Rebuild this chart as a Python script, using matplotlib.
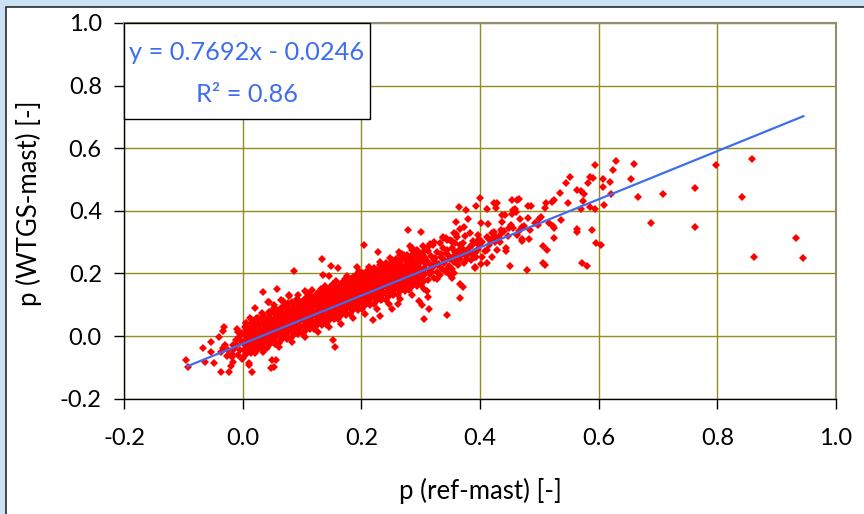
import matplotlib
matplotlib.use('Agg')
import matplotlib.pyplot as plt
from matplotlib.patches import Rectangle

plt.rcParams['font.family'] = ['Lato', 'DejaVu Sans']

# dense core of the cloud, read column by column along the band
core_pts = [
    (0.001, -0.069), (0.006, -0.056), (0.003, -0.044), (0.008, -0.033), (0.000, -0.022), (0.005, -0.012), (0.009, -0.002), (0.002, 0.008), (0.007, 0.018), (0.004, 0.029), (0.006, 0.041),
    (0.014, -0.055), (0.010, -0.042), (0.017, -0.030), (0.012, -0.019), (0.019, -0.009), (0.011, 0.001), (0.016, 0.011), (0.013, 0.021), (0.018, 0.032), (0.015, 0.043), (0.012, 0.058),
    (0.021, -0.053), (0.026, -0.040), (0.023, -0.028), (0.028, -0.017), (0.020, -0.006), (0.025, 0.004), (0.029, 0.014), (0.022, 0.024), (0.027, 0.034), (0.024, 0.045), (0.026, 0.057),
    (0.034, -0.040), (0.030, -0.027), (0.037, -0.015), (0.032, -0.004), (0.039, 0.006), (0.031, 0.016), (0.036, 0.026), (0.033, 0.036), (0.038, 0.047), (0.035, 0.058), (0.032, 0.073),
    (0.041, -0.038), (0.046, -0.025), (0.043, -0.013), (0.048, -0.002), (0.040, 0.009), (0.045, 0.019), (0.049, 0.029), (0.042, 0.039), (0.047, 0.049), (0.044, 0.060), (0.046, 0.072),
    (0.054, -0.024), (0.050, -0.011), (0.057, 0.001), (0.052, 0.012), (0.059, 0.022), (0.051, 0.032), (0.056, 0.042), (0.053, 0.052), (0.058, 0.063), (0.055, 0.074), (0.052, 0.089),
    (0.061, -0.022), (0.066, -0.009), (0.063, 0.003), (0.068, 0.014), (0.060, 0.025), (0.065, 0.035), (0.069, 0.045), (0.062, 0.055), (0.067, 0.065), (0.064, 0.076), (0.066, 0.088),
    (0.074, -0.009), (0.070, 0.004), (0.077, 0.016), (0.072, 0.027), (0.079, 0.037), (0.071, 0.047), (0.076, 0.057), (0.073, 0.067), (0.078, 0.078), (0.075, 0.089), (0.072, 0.104),
    (0.081, -0.007), (0.086, 0.006), (0.083, 0.018), (0.088, 0.029), (0.080, 0.040), (0.085, 0.050), (0.089, 0.060), (0.082, 0.070), (0.087, 0.080), (0.084, 0.091), (0.086, 0.103),
    (0.094, 0.007), (0.090, 0.020), (0.097, 0.032), (0.092, 0.043), (0.099, 0.053), (0.091, 0.063), (0.096, 0.073), (0.093, 0.083), (0.098, 0.094), (0.095, 0.105), (0.092, 0.120),
    (0.101, 0.008), (0.106, 0.021), (0.103, 0.033), (0.108, 0.044), (0.100, 0.055), (0.105, 0.065), (0.109, 0.075), (0.102, 0.085), (0.107, 0.095), (0.104, 0.106), (0.106, 0.118),
    (0.114, 0.022), (0.110, 0.035), (0.117, 0.047), (0.112, 0.058), (0.119, 0.068), (0.111, 0.078), (0.116, 0.088), (0.113, 0.098), (0.118, 0.109), (0.115, 0.120), (0.112, 0.135),
    (0.121, 0.024), (0.126, 0.037), (0.123, 0.049), (0.128, 0.060), (0.120, 0.071), (0.125, 0.081), (0.129, 0.091), (0.122, 0.101), (0.127, 0.111), (0.124, 0.122), (0.126, 0.134),
    (0.134, 0.037), (0.130, 0.050), (0.137, 0.062), (0.132, 0.073), (0.139, 0.083), (0.131, 0.093), (0.136, 0.103), (0.133, 0.113), (0.138, 0.124), (0.135, 0.135), (0.132, 0.150),
    (0.141, 0.039), (0.146, 0.052), (0.143, 0.064), (0.148, 0.075), (0.140, 0.086), (0.145, 0.096), (0.149, 0.106), (0.142, 0.116), (0.147, 0.126), (0.144, 0.137), (0.146, 0.149),
    (0.154, 0.053), (0.150, 0.066), (0.157, 0.078), (0.152, 0.089), (0.159, 0.099), (0.151, 0.109), (0.156, 0.119), (0.153, 0.129), (0.158, 0.140), (0.155, 0.151), (0.152, 0.166),
    (0.161, 0.054), (0.166, 0.067), (0.163, 0.079), (0.168, 0.090), (0.160, 0.101), (0.165, 0.111), (0.169, 0.121), (0.162, 0.131), (0.167, 0.141), (0.164, 0.152), (0.166, 0.164),
    (0.174, 0.068), (0.170, 0.081), (0.177, 0.093), (0.172, 0.104), (0.179, 0.114), (0.171, 0.124), (0.176, 0.134), (0.173, 0.144), (0.178, 0.155), (0.175, 0.166), (0.172, 0.181),
    (0.181, 0.070), (0.186, 0.083), (0.183, 0.095), (0.188, 0.106), (0.180, 0.117), (0.185, 0.127), (0.189, 0.137), (0.182, 0.147), (0.187, 0.157), (0.184, 0.168), (0.186, 0.180),
    (0.194, 0.084), (0.190, 0.097), (0.197, 0.109), (0.192, 0.120), (0.199, 0.130), (0.191, 0.140), (0.196, 0.150), (0.193, 0.160), (0.198, 0.171), (0.195, 0.182), (0.192, 0.197),
    (0.201, 0.085), (0.206, 0.098), (0.203, 0.110), (0.208, 0.121), (0.200, 0.132), (0.205, 0.142), (0.209, 0.152), (0.202, 0.162), (0.207, 0.172), (0.204, 0.183), (0.206, 0.195),
    (0.214, 0.099), (0.210, 0.112), (0.217, 0.124), (0.212, 0.135), (0.219, 0.145), (0.211, 0.155), (0.216, 0.165), (0.213, 0.175), (0.218, 0.186), (0.215, 0.197), (0.212, 0.212),
    (0.221, 0.101), (0.226, 0.114), (0.223, 0.126), (0.228, 0.137), (0.220, 0.148), (0.225, 0.158), (0.229, 0.168), (0.222, 0.178), (0.227, 0.188), (0.224, 0.199), (0.226, 0.211),
    (0.234, 0.114), (0.230, 0.127), (0.237, 0.139), (0.232, 0.150), (0.239, 0.160), (0.231, 0.170), (0.236, 0.180), (0.233, 0.190), (0.238, 0.201), (0.235, 0.212), (0.232, 0.227),
    (0.241, 0.116), (0.246, 0.129), (0.243, 0.141), (0.248, 0.152), (0.240, 0.163), (0.245, 0.173), (0.249, 0.183), (0.242, 0.193), (0.247, 0.203), (0.244, 0.214), (0.246, 0.226),
    (0.254, 0.130), (0.250, 0.143), (0.257, 0.155), (0.252, 0.166), (0.259, 0.176), (0.251, 0.186), (0.256, 0.196), (0.253, 0.206), (0.258, 0.217), (0.255, 0.228), (0.252, 0.243),
    (0.261, 0.131), (0.266, 0.144), (0.263, 0.156), (0.268, 0.167), (0.260, 0.178), (0.265, 0.188), (0.269, 0.198), (0.262, 0.208), (0.267, 0.218), (0.264, 0.229), (0.266, 0.241),
    (0.274, 0.145), (0.270, 0.158), (0.277, 0.170), (0.272, 0.181), (0.279, 0.191), (0.271, 0.201), (0.276, 0.211), (0.273, 0.221), (0.278, 0.232), (0.275, 0.243), (0.272, 0.258),
    (0.281, 0.147), (0.286, 0.160), (0.283, 0.172), (0.288, 0.183), (0.280, 0.194), (0.285, 0.204), (0.289, 0.214), (0.282, 0.224), (0.287, 0.234), (0.284, 0.245), (0.286, 0.257),
    (0.294, 0.160), (0.290, 0.173), (0.297, 0.185), (0.292, 0.196), (0.299, 0.206), (0.291, 0.216), (0.296, 0.226), (0.293, 0.236), (0.298, 0.247), (0.295, 0.258), (0.292, 0.273),
    (0.301, 0.162), (0.306, 0.175), (0.303, 0.187), (0.308, 0.198), (0.300, 0.209), (0.305, 0.219), (0.309, 0.229), (0.302, 0.239), (0.307, 0.249), (0.304, 0.260), (0.306, 0.272),
    (0.312, 0.180), (0.316, 0.198), (0.314, 0.212), (0.318, 0.226), (0.311, 0.240), (0.317, 0.256), (0.313, 0.272),
    (0.323, 0.185), (0.327, 0.206), (0.321, 0.220), (0.326, 0.235), (0.324, 0.250), (0.328, 0.268),
    (0.332, 0.196), (0.336, 0.214), (0.331, 0.230), (0.338, 0.246), (0.334, 0.263), (0.337, 0.280),
    (0.343, 0.205), (0.347, 0.224), (0.341, 0.240), (0.346, 0.258), (0.344, 0.276),
    (0.352, 0.215), (0.356, 0.236), (0.354, 0.252), (0.358, 0.270),
    (0.363, 0.226), (0.367, 0.246), (0.361, 0.265), (0.366, 0.290),
    (0.373, 0.232), (0.376, 0.255), (0.372, 0.278),
    (0.384, 0.244), (0.381, 0.266), (0.387, 0.292),
    (0.393, 0.252), (0.397, 0.279), (0.395, 0.300),
    (-0.008, -0.060), (-0.004, -0.044), (-0.009, -0.030), (-0.003, -0.017), (-0.006, -0.004), (-0.002, 0.010),
    (-0.018, -0.058), (-0.014, -0.042), (-0.017, -0.027), (-0.012, -0.012),
    (-0.027, -0.062), (-0.024, -0.045), (-0.029, -0.030), (-0.036, -0.052), (-0.033, -0.038),
]

# more readings between the core columns (x of column, y values in it)
fill_cols = [0.005, 0.015, 0.025, 0.035, 0.045, 0.055, 0.065, 0.075, 0.085, 0.095,
             0.105, 0.115, 0.125, 0.135, 0.145, 0.155, 0.165, 0.175, 0.185, 0.195,
             0.205, 0.215, 0.225, 0.235, 0.245, 0.255, 0.265, 0.275, 0.285, 0.295]
fill_vals = [
    [-0.057, -0.045, -0.033, -0.021, -0.011, -0.001, 0.009, 0.020, 0.031, 0.043],
    [-0.049, -0.037, -0.025, -0.013, -0.003, 0.007, 0.017, 0.028, 0.039, 0.051],
    [-0.041, -0.029, -0.017, -0.005, 0.005, 0.015, 0.025, 0.036, 0.047, 0.059],
    [-0.034, -0.022, -0.010, 0.002, 0.012, 0.022, 0.032, 0.043, 0.054, 0.066],
    [-0.026, -0.014, -0.002, 0.010, 0.020, 0.030, 0.040, 0.051, 0.062, 0.074],
    [-0.018, -0.006, 0.006, 0.018, 0.028, 0.038, 0.048, 0.059, 0.070, 0.082],
    [-0.011, 0.001, 0.013, 0.025, 0.035, 0.045, 0.055, 0.066, 0.077, 0.089],
    [-0.003, 0.009, 0.021, 0.033, 0.043, 0.053, 0.063, 0.074, 0.085, 0.097],
    [0.005, 0.017, 0.029, 0.041, 0.051, 0.061, 0.071, 0.082, 0.093, 0.105],
    [0.012, 0.024, 0.036, 0.048, 0.058, 0.068, 0.078, 0.089, 0.100, 0.112],
    [0.020, 0.032, 0.044, 0.056, 0.066, 0.076, 0.086, 0.097, 0.108, 0.120],
    [0.028, 0.040, 0.052, 0.064, 0.074, 0.084, 0.094, 0.105, 0.116, 0.128],
    [0.036, 0.048, 0.060, 0.072, 0.082, 0.092, 0.102, 0.113, 0.124, 0.136],
    [0.043, 0.055, 0.067, 0.079, 0.089, 0.099, 0.109, 0.120, 0.131, 0.143],
    [0.051, 0.063, 0.075, 0.087, 0.097, 0.107, 0.117, 0.128, 0.139, 0.151],
    [0.059, 0.071, 0.083, 0.095, 0.105, 0.115, 0.125, 0.136, 0.147, 0.159],
    [0.066, 0.078, 0.090, 0.102, 0.112, 0.122, 0.132, 0.143, 0.154, 0.166],
    [0.074, 0.086, 0.098, 0.110, 0.120, 0.130, 0.140, 0.151, 0.162, 0.174],
    [0.082, 0.094, 0.106, 0.118, 0.128, 0.138, 0.148, 0.159, 0.170, 0.182],
    [0.089, 0.101, 0.113, 0.125, 0.135, 0.145, 0.155, 0.166, 0.177, 0.189],
    [0.097, 0.109, 0.121, 0.133, 0.143, 0.153, 0.163, 0.174, 0.185, 0.197],
    [0.105, 0.117, 0.129, 0.141, 0.151, 0.161, 0.171, 0.182, 0.193, 0.205],
    [0.112, 0.124, 0.136, 0.148, 0.158, 0.168, 0.178, 0.189, 0.200, 0.212],
    [0.120, 0.132, 0.144, 0.156, 0.166, 0.176, 0.186, 0.197, 0.208, 0.220],
    [0.128, 0.140, 0.152, 0.164, 0.174, 0.184, 0.194, 0.205, 0.216, 0.228],
    [0.136, 0.148, 0.160, 0.172, 0.182, 0.192, 0.202, 0.213, 0.224, 0.236],
    [0.143, 0.155, 0.167, 0.179, 0.189, 0.199, 0.209, 0.220, 0.231, 0.243],
    [0.151, 0.163, 0.175, 0.187, 0.197, 0.207, 0.217, 0.228, 0.239, 0.251],
    [0.159, 0.171, 0.183, 0.195, 0.205, 0.215, 0.225, 0.236, 0.247, 0.259],
    [0.166, 0.178, 0.190, 0.202, 0.212, 0.222, 0.232, 0.243, 0.254, 0.266],
]

# ragged edges of the band and the thinner part between 0.3 and 0.5
edge_pts = [
    (0.052, 0.098), (0.068, 0.112), (0.083, 0.110), (0.094, 0.131), (0.108, 0.124), (0.117, 0.148),
    (0.128, 0.141), (0.139, 0.160), (0.148, 0.158), (0.158, 0.175), (0.167, 0.170), (0.176, 0.192),
    (0.186, 0.188), (0.196, 0.207), (0.203, 0.201), (0.213, 0.222), (0.222, 0.216), (0.231, 0.238),
    (0.241, 0.232), (0.249, 0.250), (0.258, 0.246), (0.268, 0.262), (0.277, 0.258), (0.286, 0.276),
    (0.296, 0.270), (0.304, 0.288), (0.313, 0.285), (0.322, 0.300), (0.333, 0.296), (0.342, 0.312),
    (0.352, 0.305), (0.362, 0.318),
    (0.058, 0.084), (0.073, 0.096), (0.088, 0.098), (0.101, 0.112), (0.112, 0.110), (0.123, 0.126),
    (0.133, 0.128), (0.143, 0.142), (0.153, 0.146), (0.163, 0.158), (0.171, 0.158), (0.182, 0.176),
    (0.191, 0.175), (0.201, 0.190), (0.209, 0.188), (0.218, 0.204), (0.227, 0.203), (0.237, 0.220),
    (0.246, 0.218), (0.254, 0.236), (0.263, 0.232), (0.273, 0.248), (0.282, 0.246), (0.291, 0.262),
    (0.300, 0.258),
    (0.034, -0.050), (0.062, -0.034), (0.084, -0.020), (0.105, -0.002), (0.127, 0.014), (0.146, 0.030),
    (0.165, 0.040), (0.186, 0.058), (0.207, 0.072), (0.226, 0.088), (0.246, 0.102), (0.266, 0.118),
    (0.285, 0.132), (0.305, 0.150),
    (0.318, 0.205), (0.322, 0.244), (0.329, 0.226), (0.335, 0.252), (0.339, 0.232), (0.343, 0.266),
    (0.349, 0.245), (0.353, 0.282), (0.357, 0.256), (0.362, 0.240), (0.364, 0.276), (0.368, 0.260),
    (0.371, 0.296), (0.375, 0.268), (0.378, 0.246), (0.382, 0.280), (0.386, 0.262), (0.389, 0.305),
    (0.394, 0.268), (0.399, 0.290), (0.403, 0.300), (0.408, 0.272), (0.411, 0.318), (0.415, 0.290),
    (0.420, 0.330), (0.425, 0.300), (0.428, 0.275), (0.432, 0.312), (0.440, 0.335), (0.447, 0.320),
    (0.456, 0.345), (0.463, 0.322), (0.474, 0.350), (0.485, 0.340), (0.492, 0.362),
]

# scattered points outside the dense band
sparse_pts = [
    (0.594, 0.546), (0.629, 0.560), (0.660, 0.549), (0.625, 0.530), (0.586, 0.508), (0.591, 0.505),
    (0.582, 0.488), (0.607, 0.502), (0.619, 0.491), (0.655, 0.503), (0.608, 0.475), (0.571, 0.462),
    (0.576, 0.455), (0.620, 0.453), (0.574, 0.431), (0.667, 0.443), (0.708, 0.454), (0.762, 0.473),
    (0.797, 0.545), (0.859, 0.564), (0.842, 0.444), (0.609, 0.418), (0.585, 0.411), (0.594, 0.406),
    (0.570, 0.407), (0.688, 0.362), (0.763, 0.347), (0.588, 0.340), (0.595, 0.296), (0.604, 0.290),
    (0.572, 0.235), (0.581, 0.223), (0.932, 0.314), (0.861, 0.251), (0.944, 0.249),
    (0.552, 0.507), (0.545, 0.490), (0.534, 0.458), (0.563, 0.467), (0.549, 0.426), (0.512, 0.424),
    (0.522, 0.429), (0.525, 0.434), (0.510, 0.410), (0.481, 0.416), (0.486, 0.416), (0.454, 0.434),
    (0.462, 0.435), (0.466, 0.437), (0.455, 0.402), (0.459, 0.406), (0.428, 0.426), (0.424, 0.424),
    (0.400, 0.441), (0.393, 0.416), (0.365, 0.412), (0.376, 0.402), (0.412, 0.405), (0.427, 0.408),
    (0.437, 0.386), (0.442, 0.386), (0.454, 0.390), (0.461, 0.395), (0.468, 0.375), (0.481, 0.377),
    (0.502, 0.379), (0.500, 0.373), (0.516, 0.361), (0.523, 0.352), (0.525, 0.346), (0.537, 0.371),
    (0.497, 0.355), (0.563, 0.343), (0.564, 0.333), (0.525, 0.314), (0.482, 0.309), (0.470, 0.311),
    (0.471, 0.304), (0.506, 0.288), (0.513, 0.276), (0.507, 0.234), (0.509, 0.228), (0.480, 0.212),
    (0.451, 0.223), (0.434, 0.299), (0.444, 0.281), (0.444, 0.272), (0.435, 0.339), (0.435, 0.326),
    (0.452, 0.354), (0.449, 0.345), (0.466, 0.336), (0.471, 0.348), (0.437, 0.363), (0.423, 0.332),
    (0.425, 0.319), (0.421, 0.309), (0.401, 0.360), (0.413, 0.358), (0.396, 0.322), (0.398, 0.310),
    (0.360, 0.363), (0.379, 0.375), (0.366, 0.343), (0.373, 0.347), (0.375, 0.319), (0.383, 0.329),
    (0.412, 0.274), (0.404, 0.253), (0.401, 0.229), (0.391, 0.220), (0.421, 0.251), (0.412, 0.234),
    (0.413, 0.314), (0.418, 0.303), (0.337, 0.312), (0.350, 0.307), (0.358, 0.296), (0.279, 0.339),
    (0.300, 0.331), (0.282, 0.288), (0.286, 0.282),
    (0.205, 0.291), (0.134, 0.245), (0.149, 0.224), (0.160, 0.218), (0.228, 0.267), (0.192, 0.221),
    (0.136, 0.194), (0.105, 0.145), (0.367, 0.122), (0.298, 0.113), (0.303, 0.098), (0.314, 0.085),
    (0.306, 0.054), (0.344, 0.067), (0.327, 0.182), (0.262, 0.104), (0.252, 0.086), (0.231, 0.063),
    (0.219, 0.051), (0.392, 0.216), (0.391, 0.253), (0.263, 0.267), (0.265, 0.259), (0.294, 0.275),
    (0.299, 0.261), (0.316, 0.293), (0.320, 0.291), (0.337, 0.315), (0.345, 0.308), (0.353, 0.301),
    (0.356, 0.330), (0.360, 0.326), (0.386, 0.290), (0.390, 0.268), (0.390, 0.253), (0.353, 0.184),
    (0.357, 0.202), (0.367, 0.166), (0.372, 0.158), (0.310, 0.145), (0.313, 0.126), (0.343, 0.211),
    (0.348, 0.198),
    (-0.096, -0.077), (-0.092, -0.098), (-0.067, -0.039), (-0.054, -0.018), (-0.064, -0.082),
    (-0.049, -0.085), (-0.040, -0.002), (-0.053, -0.050), (-0.036, -0.115), (-0.023, -0.114),
    (-0.016, -0.082), (-0.020, -0.096), (-0.018, -0.066), (-0.033, 0.016), (-0.031, 0.029),
    (-0.010, 0.023), (-0.008, 0.012), (-0.001, -0.073), (0.010, -0.087), (0.010, -0.093),
    (0.015, -0.116), (0.023, 0.054), (0.023, 0.039), (0.034, 0.141), (0.058, 0.149), (0.043, 0.108),
    (0.045, 0.077), (0.052, -0.098), (0.048, -0.103), (0.050, -0.077), (0.056, -0.077),
    (0.073, 0.096), (0.076, 0.106), (0.078, 0.131), (0.087, 0.101), (0.086, 0.208), (0.064, 0.018),
    (0.078, 0.129), (0.044, 0.109), (0.064, 0.115), (0.070, 0.094), (0.020, 0.090), (0.046, 0.078),
    (0.023, 0.055), (0.035, 0.053), (0.108, 0.138), (0.112, 0.126), (0.145, 0.192),
    (0.152, -0.014), (0.156, -0.036),
]

# trend line from the chart annotation
slope = 0.7692
intercept = -0.0246
r2 = 0.86
line_x = [-0.093, 0.945]

tick_vals = [-0.2, 0.0, 0.2, 0.4, 0.6, 0.8, 1.0]
tick_labels = ['-0.2', '0.0', '0.2', '0.4', '0.6', '0.8', '1.0']

pts = core_pts + edge_pts + sparse_pts
for cx, ys in zip(fill_cols, fill_vals):
    pts = pts + [(cx, y) for y in ys]
px = [p[0] for p in pts]
py = [p[1] for p in pts]
line_y = [slope * x + intercept for x in line_x]

fig = plt.figure(figsize=(8.64, 5.14), dpi=100)
fig.patch.set_facecolor('#cde1f5')
# white panel with dark edge (light blue strip left/top)
fig.add_artist(Rectangle((5.5 / 864, -0.05), 1.1, (514 - 6.5) / 514 + 0.05,
                         transform=fig.transFigure, facecolor='white',
                         edgecolor='#2b2b2b', linewidth=1.2, zorder=-5))

ax = fig.add_axes([0.1435, 0.2243, 0.8241, 0.731])
ax.set_facecolor('white')

ax.plot(px, py, linestyle='none', marker='D', markersize=3.6,
        color='#ff0000', markeredgewidth=0, zorder=3)
ax.plot(line_x, line_y, color='#3d6ef0', linewidth=1.6, zorder=4)

ax.set_xlim(-0.2, 1.0)
ax.set_ylim(-0.2, 1.0)
ax.set_xticks(tick_vals)
ax.set_xticklabels(tick_labels)
ax.set_yticks(tick_vals)
ax.set_yticklabels(tick_labels)
ax.grid(True, color='#8f8f1f', linewidth=1.0, zorder=0)
ax.set_axisbelow(True)

for side in ['top', 'right']:
    ax.spines[side].set_color('#8f8f6f')
    ax.spines[side].set_linewidth(1.5)
for side in ['left', 'bottom']:
    ax.spines[side].set_color('black')
    ax.spines[side].set_linewidth(1.0)

ax.tick_params(axis='both', direction='out', length=7, width=1,
               color='black', labelsize=17, labelcolor='black')
ax.tick_params(axis='y', pad=9)
ax.tick_params(axis='x', pad=14)

ax.set_xlabel('p (ref-mast) [-]', fontsize=18.5)
ax.set_ylabel('p (WTGS-mast) [-]', fontsize=18.5)
ax.xaxis.set_label_coords(0.5, -0.21)
ax.yaxis.set_label_coords(-0.115, 0.52)

# equation box
ax.add_patch(Rectangle((-0.2, 0.694), 0.415, 0.306, facecolor='white',
                       edgecolor='black', linewidth=1.0, zorder=5, clip_on=False))
ax.text(0.007, 0.907, 'y = %.4fx - %.4f' % (slope, -intercept), color='#3d6ef0',
        fontsize=18.3, ha='center', va='center', zorder=6)
ax.text(0.007, 0.773, 'R\u00b2 = %.2f' % r2, color='#3d6ef0',
        fontsize=18.3, ha='center', va='center', zorder=6)

fig.savefig('out.png', dpi=100, facecolor=fig.get_facecolor())
